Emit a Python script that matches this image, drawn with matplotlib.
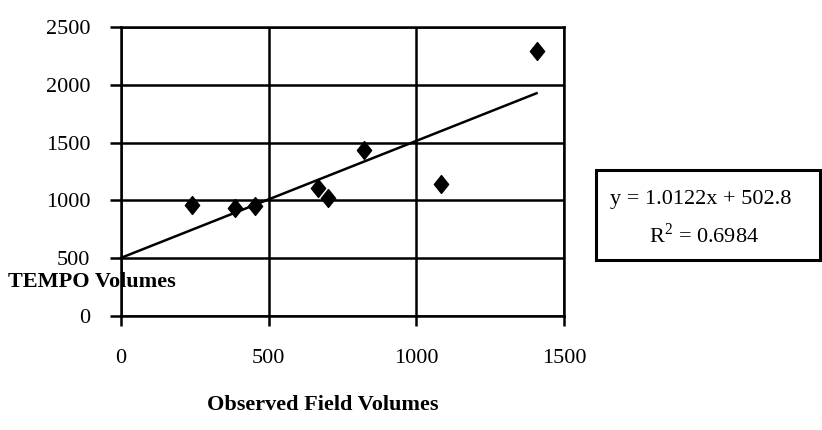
import matplotlib
matplotlib.use("Agg")
import matplotlib.pyplot as plt
from matplotlib.path import Path
from matplotlib.patches import Rectangle
import numpy as np

observed = [239, 385, 453, 667, 701, 822, 1085, 1407]
tempo = [960, 932, 951, 1105, 1018, 1436, 1142, 2292]
slope = 1.0122
intercept = 502.8
eq_line1 = "y = 1.0122x + 502.8"
eq_line2 = "R$^2$ = 0.6984"
x_ticks = [0, 500, 1000, 1500]
y_ticks = [0, 500, 1000, 1500, 2000, 2500]

plt.rcParams['font.family'] = ['Liberation Serif', 'DejaVu Serif']
plt.rcParams['mathtext.fontset'] = 'custom'
plt.rcParams['mathtext.rm'] = 'Liberation Serif'
fig = plt.figure(figsize=(8.22, 4.30), dpi=100)
ax = fig.add_axes([121/822, 1-316/430, (564-121)/822, (316-27)/430])

ax.set_xlim(0, 1500)
ax.set_ylim(0, 2500)
ax.set_xticks(x_ticks)
ax.set_yticks(y_ticks)
ax.grid(True, color='black', linewidth=1.8)
ax.set_axisbelow(True)
for s in ax.spines.values():
    s.set_linewidth(1.8)
    s.set_color('black')
ax.tick_params(axis='x', direction='out', length=7.5, width=1.8, pad=16, labelsize=16)
ax.tick_params(axis='y', direction='out', length=8, width=1.8, pad=14, labelsize=16)

xl = np.array([0, max(observed)])
ax.plot(xl, slope*xl + intercept, color='black', linewidth=1.8, clip_on=False, zorder=3)
diamond = Path([(0, 1), (0.8, 0), (0, -1), (-0.8, 0), (0, 1)],
               [Path.MOVETO, Path.LINETO, Path.LINETO, Path.LINETO, Path.CLOSEPOLY])
ax.scatter(observed, tempo, marker=diamond, s=165, color='black', zorder=4, clip_on=False)

fig.text(8/822, 1-282/430, "TEMPO Volumes", fontsize=16, fontweight='bold', va='center', ha='left')
fig.text(323/822, 1-405/430, "Observed Field Volumes", fontsize=16, fontweight='bold', va='center', ha='center')

fig.patches.append(Rectangle((596/822, 1-260/430), (820-596)/822, (260-170)/430,
                             transform=fig.transFigure, facecolor='white', edgecolor='black',
                             linewidth=2.2, figure=fig))
fig.text(701/822, 1-200/430, eq_line1, fontsize=16, ha='center', va='center')
fig.text(704/822, 1-235/430, eq_line2, fontsize=16, ha='center', va='center')

fig.savefig("out.png", dpi=100)
